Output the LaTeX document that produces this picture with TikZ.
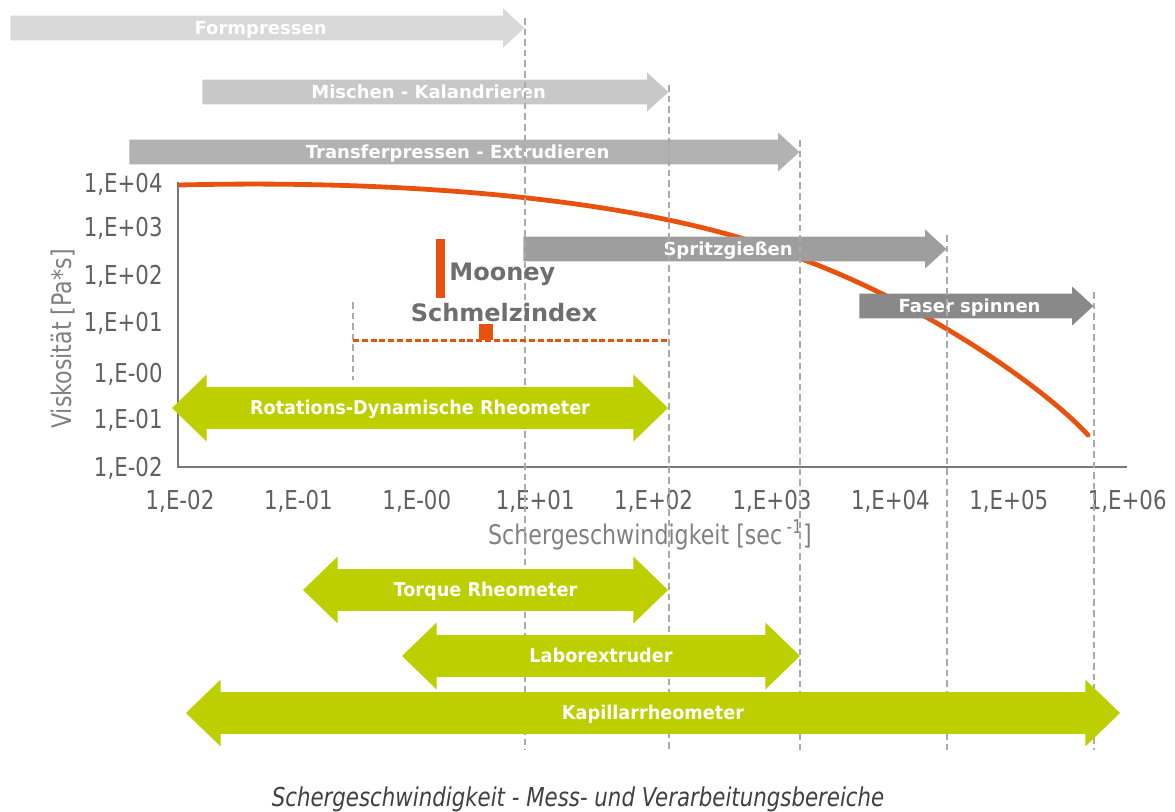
\documentclass[tikz,border=0pt]{standalone}
\usepackage{fontspec}
\setmainfont{DejaVu Sans}
\newfontfamily\narrowfont[FakeStretch=0.82]{DejaVu Sans}
\newfontfamily\greenfont[FakeStretch=0.93]{DejaVu Sans}
\usetikzlibrary{shapes.arrows}
\definecolor{curveorange}{RGB}{232,81,14}
\definecolor{meadow}{RGB}{190,207,0}
\definecolor{tickgray}{RGB}{96,96,96}
\definecolor{titlegray}{RGB}{128,128,128}
\definecolor{labelgray}{RGB}{110,110,110}
\definecolor{axisgray}{RGB}{120,120,120}
\definecolor{gridgray}{RGB}{170,170,170}
\definecolor{captiongray}{RGB}{64,64,64}
\definecolor{procA}{RGB}{217,217,217}
\definecolor{procB}{RGB}{200,200,200}
\definecolor{procC}{RGB}{178,178,178}
\definecolor{procD}{RGB}{158,158,158}
\definecolor{procE}{RGB}{137,137,137}

\begin{document}
\begin{tikzpicture}[x=0.5pt, y=-0.5pt,
		procarrow/.style={single arrow, draw=none, anchor=tail, inner xsep=0pt, inner ysep=0pt,
			text height=9.28pt, text depth=2.72pt, minimum width=0pt,
			single arrow head extend=3.5pt, single arrow tip angle=85,
			text=white, font=\bfseries\fontsize{9}{10}\selectfont},
		measarrow/.style={double arrow, fill=meadow, draw=none, inner xsep=0pt, inner ysep=0pt,
			text height=13.71pt, text depth=6.79pt, minimum width=0pt,
			double arrow head extend=6.25pt, double arrow tip angle=88,
			text=white, font=\greenfont\bfseries\fontsize{9.5}{11}\selectfont},
		guide/.style={gridgray, line width=0.6pt, dash pattern=on 3.3pt off 2pt},
		ytick/.style={anchor=east, inner sep=0pt, text height=9.4pt, text depth=0pt, text=tickgray,
			font=\narrowfont\fontsize{13}{15}\selectfont},
		xtick/.style={anchor=center, inner sep=0pt, text height=9.4pt, text depth=0pt, text=tickgray,
			font=\narrowfont\fontsize{13}{15}\selectfont},
		axtitle/.style={inner sep=0pt, text=titlegray, font=\narrowfont\fontsize{13.5}{16}\selectfont},
		marklabel/.style={inner sep=0pt, text height=8.8pt, text depth=0pt, text=labelgray,
			font=\bfseries\fontsize{12}{14}\selectfont}]
			\useasboundingbox (0,0) rectangle (1175,811);
			%   %   %   %   %   %   %   %   %   %   %
			%   Axes
				\coordinate (ytop) at (178,182);
				\coordinate (origin) at (178,467);
				\coordinate (xend) at (1127,467);
				\draw[axisgray, line width=1.4pt] (ytop) -- (origin) -- (xend);
			%   %   %   %   %   %   %   %   %   %   %
			%   Tick labels
				\foreach \yy/\ex [count=\i] in {183/+04, 227/+03, 275/+02, 322/+01, 373/-00, 419/-01, 467/-02}
					\node[ytick] (ytick\i) at (163,\yy) {1,E\ex};
				\foreach \ex [count=\i from 0] in {-02,-01,-00,+01,+02,+03,+04,+05,+06}
					\node[xtick] (xtick\i) at ({180+118.4*\i},500) {1,E\ex};
				\node[axtitle, rotate=90] (ytitle) at (63,339) {Viskosität [Pa*s]};
				\node[axtitle] (xtitle) at (650,535) {Schergeschwindigkeit [sec\,\textsuperscript{-1}]};
			%   %   %   %   %   %   %   %   %   %   %
			%   Viscosity curve
				\coordinate (vstart) at (180,185);
				\coordinate (vmid) at (799,258);
				\coordinate (vend) at (1088,435);
				\draw[curveorange, line width=2.4pt, line cap=round] (vstart)
					.. controls (380,180) and (640,194) .. (vmid)
					.. controls (930,306) and (1048,391) .. (vend);
			%   %   %   %   %   %   %   %   %   %   %
			%   Processing ranges
				\node[procarrow, fill=procA, minimum height=257pt] (form) at (10,28) {Formpressen};
				\node[procarrow, fill=procB, minimum height=233pt] (mix) at (202,92) {Mischen - Kalandrieren};
				\node[procarrow, fill=procC, minimum height=335pt] (transfer) at (129,152) {Transferpressen - Extrudieren};
				\node[procarrow, fill=procD, minimum height=211.5pt] (spritz) at (523,249) {Spritzgießen};
				\node[procarrow, fill=procE, minimum height=117pt] (faser) at (859,306) {Faser spinnen};
			%   %   %   %   %   %   %   %   %   %   %
			%   Range limits
				\coordinate (bottom) at (0,750);
				\draw[guide] (form.tip |- 0,18) -- (form.tip |- bottom);
				\draw[guide] (mix.tip |- 0,85) -- (mix.tip |- bottom);
				\draw[guide] (transfer.tip |- 0,140) -- (transfer.tip |- bottom);
				\draw[guide] (spritz.tip |- 0,235) -- (spritz.tip |- bottom);
				\draw[guide] (faser.tip |- 0,292) -- (faser.tip |- bottom);
				\coordinate (mfistart) at (353,340);
				\coordinate (mfiend) at (668,340);
				\draw[guide] (mfistart |- 0,302) -- (mfistart |- 0,380);
			%   %   %   %   %   %   %   %   %   %   %
			%   Mooney and melt index
				\node[fill=curveorange, inner sep=0pt, minimum width=4.5pt, minimum height=29.5pt] (mooneybar) at (440.5,268.5) {};
				\node[marklabel, anchor=west] (mooney) at (449,272) {Mooney};
				\node[marklabel] (mfi) at (504,313) {Schmelzindex};
				\draw[curveorange, line width=1.5pt, dash pattern=on 3pt off 1.4pt] (mfistart) -- (mfiend);
				\node[fill=curveorange, inner sep=0pt, minimum width=7.2pt, minimum height=8pt] (mfimark) at (485.7,332) {};
			%   %   %   %   %   %   %   %   %   %   %
			%   Measuring ranges
				\node[measarrow, minimum height=248pt] (rot) at (420,408) {Rotations-Dynamische Rheometer};
				\node[measarrow, minimum height=182.5pt] (torque) at (485.5,590) {Torque Rheometer};
				\node[measarrow, minimum height=199pt] (labor) at (601,656) {Laborextruder};
				\node[measarrow, minimum height=467pt] (kap) at (653,713) {Kapillarrheometer};
			%   %   %   %   %   %   %   %   %   %   %
			%   Caption
				\node[inner sep=0pt, text=captiongray, font=\narrowfont\itshape\fontsize{13}{15}\selectfont] (caption) at (578,799)
				{Schergeschwindigkeit - Mess- und Verarbeitungsbereiche};
\end{tikzpicture}
\end{document}
